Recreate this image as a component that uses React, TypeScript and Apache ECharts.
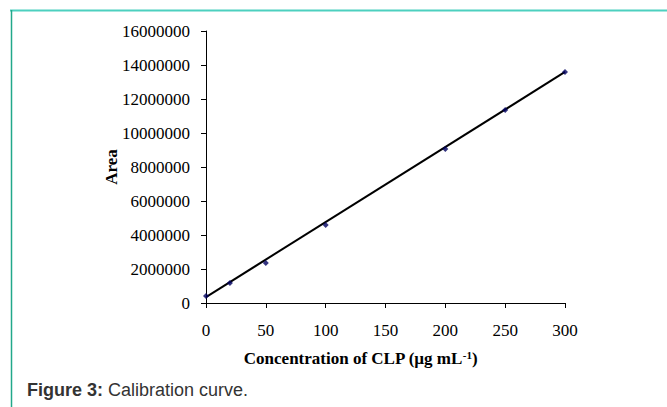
import React, { useEffect, useRef } from "react";
import * as echarts from "echarts";

const concentration = [0, 20, 50, 100, 200, 250, 300];
const area = [410000, 1180000, 2350000, 4590000, 9060000, 11350000, 13590000];
const trendX = [0, 300];
const trendY = [350000, 13590000];
const yTicks = { min: 0, max: 16000000, interval: 2000000 };
const xTicks = { min: 0, max: 300, interval: 50 };

export default function App() {
  const ref = useRef<HTMLDivElement>(null);
  useEffect(() => {
    document.body.style.margin = "0";
    const chart = echarts.init(ref.current!, null, { renderer: "svg" });
    const serif = "'Liberation Serif', 'Times New Roman', serif";
    chart.setOption({
      animation: false,
      backgroundColor: "#ffffff",
      grid: { left: 206, right: 102, top: 31, bottom: 104, containLabel: false },
      xAxis: {
        type: "value",
        min: xTicks.min,
        max: xTicks.max,
        interval: xTicks.interval,
        name: "Concentration of CLP (µg mL{sup|-1})",
        nameLocation: "middle",
        nameGap: 46,
        nameTextStyle: {
          fontFamily: serif,
          fontWeight: "bold",
          fontSize: 17,
          color: "#000",
          padding: [0, 50, 0, 0],
          rich: {
            sup: { fontFamily: serif, fontWeight: "bold", fontSize: 11, color: "#000", verticalAlign: "top", padding: [0, 0, 8, 0] },
          },
        },
        axisLine: { show: true, lineStyle: { color: "#000", width: 1 } },
        axisTick: { show: true, inside: false, length: 5, lineStyle: { color: "#000" } },
        axisLabel: { fontFamily: serif, fontSize: 17, color: "#000", margin: 19, formatter: (v: number) => String(v) },
        splitLine: { show: false },
      },
      yAxis: {
        type: "value",
        min: yTicks.min,
        max: yTicks.max,
        interval: yTicks.interval,
        name: "Area",
        nameLocation: "middle",
        nameRotate: 90,
        nameGap: 86,
        nameMoveOverlap: false,
        nameTextStyle: { fontFamily: serif, fontWeight: "bold", fontSize: 17, color: "#000" },
        axisLine: { show: true, lineStyle: { color: "#000", width: 1 } },
        axisTick: { show: true, inside: false, length: 5, lineStyle: { color: "#000" } },
        axisLabel: { fontFamily: serif, fontSize: 17, color: "#000", margin: 16, formatter: (v: number) => String(v) },
        splitLine: { show: false },
      },
      series: [
        {
          type: "line",
          data: trendX.map((x, i) => [x, trendY[i]]),
          showSymbol: false,
          symbol: "none",
          lineStyle: { color: "#000", width: 2 },
          z: 2,
        },
        {
          type: "scatter",
          data: concentration.map((x, i) => [x, area[i]]),
          symbol: "diamond",
          symbolSize: 6,
          itemStyle: { color: "#000060" },
          z: 3,
        },
      ],
      graphic: [
        { type: "line", shape: { x1: 10, y1: 10.5, x2: 667, y2: 10.5 }, style: { stroke: "#4dd0bf", lineWidth: 2 } },
        { type: "line", shape: { x1: 11.5, y1: 10, x2: 11.5, y2: 407 }, style: { stroke: "#22a88a", lineWidth: 1.5 } },
        {
          type: "text",
          left: 27,
          top: 381,
          style: {
            text: "{b|Figure 3:} Calibration curve.",
            fontFamily: "'Liberation Sans', Arial, sans-serif",
            fontSize: 18,
            fill: "#333",
            rich: {
              b: { fontFamily: "'Liberation Sans', Arial, sans-serif", fontSize: 18, fontWeight: "bold", fill: "#333" },
            },
          },
        },
      ],
    });
    return () => chart.dispose();
  }, []);
  return <div ref={ref} style={{ width: 667, height: 407 }} />;
}
